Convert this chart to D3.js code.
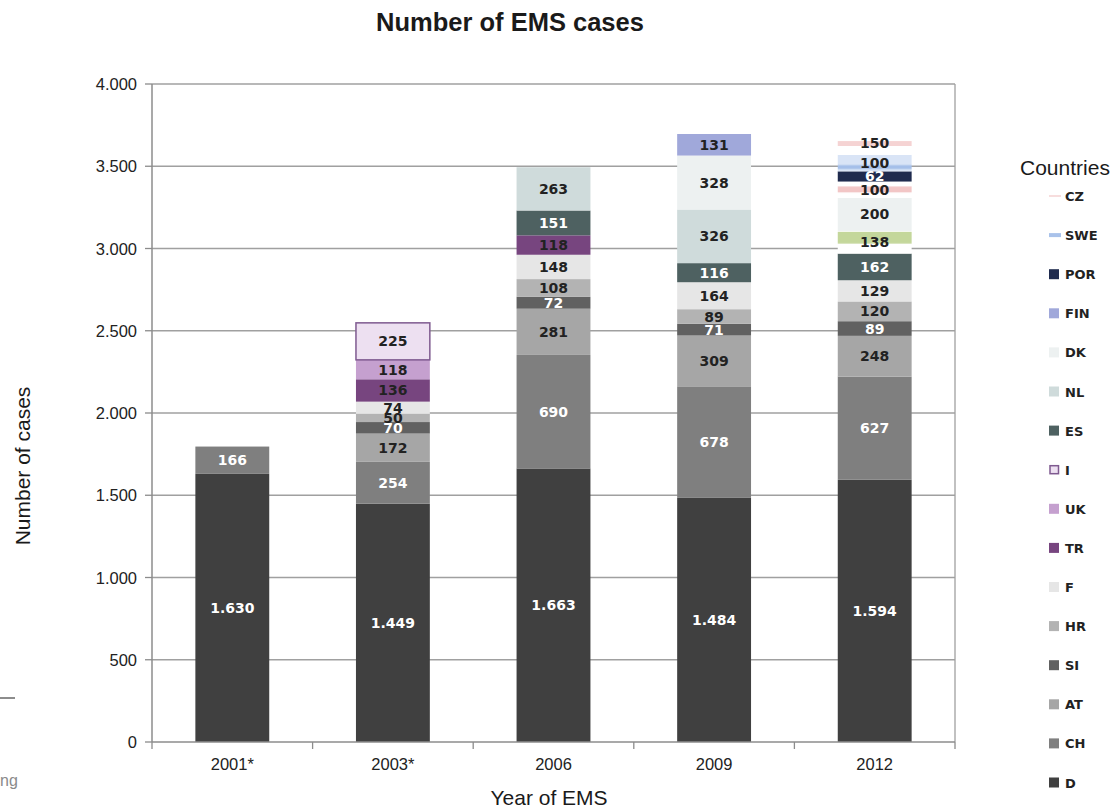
<!DOCTYPE html>
<html>
<head>
<meta charset="utf-8">
<script src="https://d3js.org/d3.v7.min.js"></script>
<style>
  body { margin: 0; background: #fff; font-family: 'Liberation Sans', Arial, sans-serif; }
  text { font-family: 'Liberation Sans', Arial, sans-serif; }
  .val { font-family: 'DejaVu Sans', sans-serif; font-size: 14px; font-weight: bold; text-anchor: middle; }
  .tick-y { font-size: 16.5px; fill: #222; }
  .tick-x { font-size: 16.5px; fill: #222; }
  .leg { font-family: 'DejaVu Sans', sans-serif; font-size: 13px; font-weight: bold; fill: #222; }
</style>
</head>
<body>
<div id="chart"></div>
<script>
// categories (x axis)
var years = ["2001*", "2003*", "2006", "2009", "2012"];

// stacking order, bottom to top
var countries = ["D", "CH", "AT", "SI", "HR", "F", "TR", "UK", "I", "ES", "NL", "DK", "FIN", "POR", "SWE", "CZ"];

// cases per country, one value per year
var D   = [1630, 1449, 1663, 1484, 1594];
var CH  = [166, 254, 690, 678, 627];
var AT  = [0, 172, 281, 309, 248];
var SI  = [0, 70, 72, 71, 89];
var HR  = [0, 50, 108, 89, 120];
var F   = [0, 74, 148, 164, 129];
var TR  = [0, 136, 118, 0, 0];
var UK  = [0, 118, 0, 0, 0];
var I   = [0, 225, 0, 0, 0];
var ES  = [0, 0, 151, 116, 162];
var NL  = [0, 0, 263, 326, 138];
var DK  = [0, 0, 0, 328, 200];
var FIN = [0, 0, 0, 131, 100];
var POR = [0, 0, 0, 0, 62];
var SWE = [0, 0, 0, 0, 100];
var CZ  = [0, 0, 0, 0, 150];

var yTicks = [0, 500, 1000, 1500, 2000, 2500, 3000, 3500, 4000];

var series = { D: D, CH: CH, AT: AT, SI: SI, HR: HR, F: F, TR: TR, UK: UK, I: I,
  ES: ES, NL: NL, DK: DK, FIN: FIN, POR: POR, SWE: SWE, CZ: CZ };

var color = {
  D: "#404040", CH: "#7f7f7f", AT: "#a6a6a6", SI: "#616161", HR: "#b3b3b3",
  F: "#e6e6e6", TR: "#77457f", UK: "#c5a0cf", I: "#ede0f1", ES: "#4e6161",
  NL: "#cfdbdb", DK: "#edf1f1", FIN: "#a0a8da", POR: "#1f2b4e", SWE: "#c9d8f1", CZ: "#f2cccc"
};
var whiteText = ["D", "CH", "SI", "ES", "POR"];

var W = 1116, H = 809;
var svg = d3.select("#chart").append("svg").attr("width", W).attr("height", H);

// striped fills used in the 2012 column
var defs = svg.append("defs");
function bandPattern(id, base, stripe, y0, y1) {
  var p = defs.append("pattern").attr("id", id)
    .attr("patternUnits", "objectBoundingBox").attr("patternContentUnits", "objectBoundingBox")
    .attr("width", 1).attr("height", 1);
  p.append("rect").attr("width", 1).attr("height", 1).attr("fill", base);
  p.append("rect").attr("y", y0).attr("width", 1).attr("height", y1 - y0).attr("fill", stripe);
}
bandPattern("p-nl12", "#ffffff", "#c4d79b", 0.04, 0.56);
bandPattern("p-fin12", "#ffffff", "#f2c6c6", 0.3, 0.66);
bandPattern("p-swe12", "#d9e4f6", "#a5bfe9", 0.62, 0.86);
bandPattern("p-cz12", "#ffffff", "#f5d3d3", 0.44, 0.64);
var fill2012 = { NL: "url(#p-nl12)", FIN: "url(#p-fin12)", SWE: "url(#p-swe12)", CZ: "url(#p-cz12)" };

var x = d3.scaleBand().domain(years).range([152, 955]).paddingInner(0.54).paddingOuter(0.27);
var y = d3.scaleLinear().domain([0, 4000]).range([742, 84]);
var fmt = d3.formatLocale({ decimal: ",", thousands: ".", grouping: [3], currency: ["", ""] }).format(",d");

// gridlines
svg.append("g").selectAll("line").data(yTicks.slice(1)).enter().append("line")
  .attr("x1", 152).attr("x2", 955)
  .attr("y1", function (d) { return y(d); }).attr("y2", function (d) { return y(d); })
  .style("stroke", "#a0a0a0").style("stroke-width", 1.3);
svg.append("line").attr("x1", 955).attr("x2", 955).attr("y1", y(4000)).attr("y2", y(0))
  .style("stroke", "#a0a0a0").style("stroke-width", 1.3);

// stacked rows
var rows = years.map(function (yr, i) {
  var r = { year: yr };
  countries.forEach(function (c) { r[c] = series[c][i]; });
  return r;
});
var stacked = d3.stack().keys(countries)(rows);

function segs(s) {
  return s.map(function (d) { return { key: s.key, y0: d[0], y1: d[1], year: d.data.year }; })
    .filter(function (d) { return d.y1 > d.y0; });
}

var layers = svg.append("g").selectAll("g").data(stacked).enter().append("g");
layers.selectAll("rect").data(segs).enter().append("rect")
  .attr("x", function (d) { return x(d.year); })
  .attr("width", x.bandwidth())
  .attr("y", function (d) { return y(d.y1); })
  .attr("height", function (d) { return y(d.y0) - y(d.y1); })
  .attr("fill", function (d) {
    if (d.year === "2012" && fill2012[d.key]) return fill2012[d.key];
    return color[d.key];
  })
  .attr("stroke", function (d) { return d.key === "I" ? "#7f5a90" : "none"; })
  .attr("stroke-width", 1.5);

// value labels
var labels = svg.append("g").selectAll("g").data(stacked).enter().append("g");
labels.selectAll("text").data(segs).enter().append("text")
  .attr("class", "val")
  .attr("x", function (d) { return x(d.year) + x.bandwidth() / 2; })
  .attr("y", function (d) { return (y(d.y0) + y(d.y1)) / 2 + 5; })
  .attr("fill", function (d) { return whiteText.indexOf(d.key) >= 0 ? "#ffffff" : "#222"; })
  .text(function (d) { return fmt(d.y1 - d.y0); });

// y axis
svg.append("line").attr("x1", 152).attr("x2", 152).attr("y1", y(4000)).attr("y2", y(0))
  .style("stroke", "#8c8c8c").style("stroke-width", 1.5);
var yt = svg.append("g").selectAll("g").data(yTicks).enter().append("g");
yt.append("line").attr("x1", 145).attr("x2", 152)
  .attr("y1", function (d) { return y(d); }).attr("y2", function (d) { return y(d); })
  .style("stroke", "#8c8c8c").style("stroke-width", 1.3);
yt.append("text").attr("class", "tick-y").attr("x", 137).attr("text-anchor", "end")
  .attr("y", function (d) { return y(d) + 6; })
  .text(function (d) { return fmt(d); });

// x axis
svg.append("line").attr("x1", 152).attr("x2", 955).attr("y1", y(0)).attr("y2", y(0))
  .style("stroke", "#8c8c8c").style("stroke-width", 1.5);
var bounds = years.map(function (d) { return x(d) - x.step() * x.paddingInner() / 2; });
bounds.push(955);
svg.append("g").selectAll("line").data(bounds).enter().append("line")
  .attr("x1", function (d) { return d; }).attr("x2", function (d) { return d; })
  .attr("y1", y(0)).attr("y2", y(0) + 7)
  .style("stroke", "#8c8c8c").style("stroke-width", 1.3);
svg.append("g").selectAll("text").data(years).enter().append("text")
  .attr("class", "tick-x").attr("text-anchor", "middle")
  .attr("x", function (d) { return x(d) + x.bandwidth() / 2; })
  .attr("y", 770)
  .text(function (d) { return d; });

// titles
svg.append("text").attr("x", 510).attr("y", 31).attr("text-anchor", "middle")
  .style("font-size", "25.5px").style("font-weight", "bold").style("fill", "#1a1a1a")
  .text("Number of EMS cases");
svg.append("text").attr("x", 549).attr("y", 805).attr("text-anchor", "middle")
  .style("font-size", "21px").style("fill", "#1a1a1a").text("Year of EMS");
svg.append("text").attr("transform", "translate(30,466) rotate(-90)").attr("text-anchor", "middle")
  .style("font-size", "21px").style("fill", "#1a1a1a").text("Number of cases");

// legend, top entry is the last stacked series
var legendItems = countries.slice().reverse();
svg.append("text").attr("x", 1020).attr("y", 175).style("font-size", "21px").style("fill", "#1a1a1a")
  .text("Countries");
var lg = svg.append("g").selectAll("g").data(legendItems).enter().append("g")
  .attr("transform", function (d, i) { return "translate(1049," + (196 + i * 39.1) + ")"; });
lg.append("rect")
  .attr("x", function (d) { return d === "I" ? 1 : 0; })
  .attr("y", function (d) { return d === "CZ" ? -0.5 : d === "SWE" ? -2 : d === "I" ? -4 : -5; })
  .attr("width", function (d) { return d === "CZ" || d === "SWE" ? 12 : d === "I" ? 8.5 : 10; })
  .attr("height", function (d) { return d === "CZ" ? 1 : d === "SWE" ? 4 : d === "I" ? 8 : 10; })
  .attr("fill", function (d) { return d === "SWE" ? "#a9c2ea" : d === "CZ" ? "#f0bcbc" : color[d]; })
  .attr("stroke", function (d) { return d === "I" ? "#7f5a90" : "none"; })
  .attr("stroke-width", 1.5);
lg.append("text").attr("class", "leg")
  .attr("x", 16)
  .attr("y", 5)
  .text(function (d) { return d; });

// page remnants at the left edge
svg.append("line").attr("x1", 0).attr("x2", 15).attr("y1", 698).attr("y2", 698)
  .style("stroke", "#1a1a1a").style("stroke-width", 1);
svg.append("text").attr("x", 0).attr("y", 786).style("font-size", "16px").style("fill", "#8a8a8a").text("ng");
</script>
</body>
</html>
